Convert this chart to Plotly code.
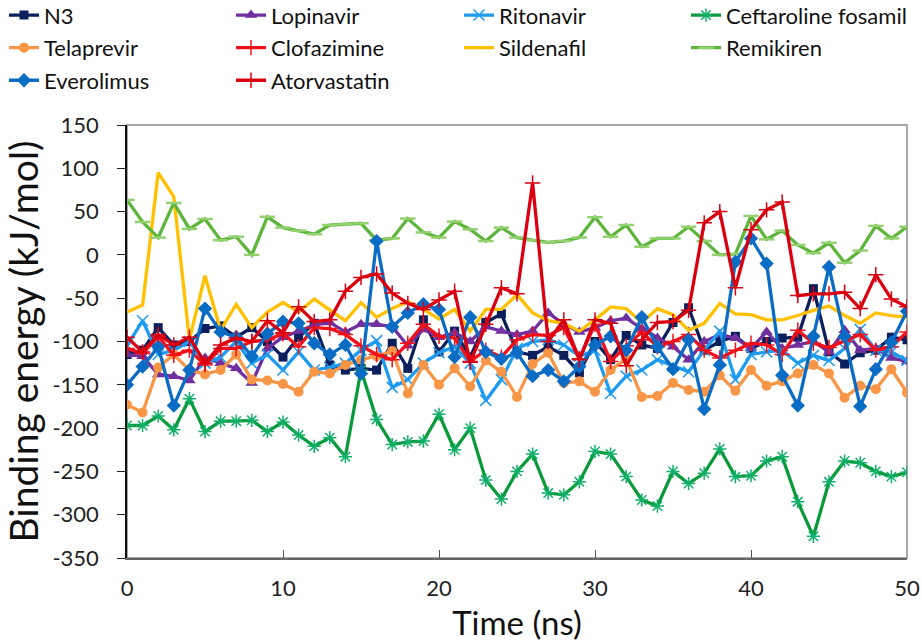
import plotly.graph_objects as go

time_ns = list(range(51))

n3 = [-115, -110, -84, -104, -100, -85, -82, -95, -84, -100, -118, -95, -79, -127, -133, -131, -133, -102, -131, -75,
      -112, -88, -118, -78, -68, -112, -116, -106, -116, -136, -100, -121, -93, -104, -108, -78, -61, -110, -100, -94,
      -108, -100, -96, -95, -39, -112, -126, -113, -110, -95, -98]
lopinavir = [-115, -117, -138, -140, -145, -119, -125, -131, -148, -108, -95, -88, -81, -78, -89, -80, -80, -83, -105, -86,
             -95, -90, -100, -83, -88, -92, -88, -67, -80, -89, -84, -76, -73, -85, -96, -106, -121, -100, -92, -96,
             -108, -89, -108, -104, -100, -112, -87, -110, -108, -119, -123]
ritonavir = [-105, -76, -115, -110, -100, -125, -118, -100, -125, -115, -133, -112, -133, -130, -125, -110, -99, -153, -144, -125,
             -113, -106, -125, -168, -144, -108, -100, -98, -104, -117, -110, -160, -140, -133, -121, -128, -135, -110, -88, -144,
             -115, -112, -110, -125, -116, -122, -108, -86, -110, -112, -122]
ceftaroline = [-197, -197, -186, -202, -166, -204, -192, -192, -191, -204, -193, -208, -221, -211, -233, -133, -190, -219, -216, -215,
               -184, -225, -200, -260, -282, -250, -230, -275, -277, -262, -227, -230, -256, -283, -290, -250, -264, -252, -224, -256,
               -255, -238, -233, -285, -325, -262, -238, -240, -250, -256, -251]
telaprevir = [-173, -182, -130, -115, -133, -138, -133, -115, -144, -145, -149, -158, -135, -137, -127, -121, -117, -111, -160, -127,
              -150, -131, -152, -122, -135, -164, -126, -113, -148, -146, -158, -133, -120, -164, -163, -148, -156, -158, -139, -157,
              -133, -151, -146, -137, -127, -137, -165, -151, -155, -132, -159]
clofazimine = [-108, -114, -94, -116, -110, -127, -108, -108, -100, -98, -91, -106, -84, -85, -92, -105, -115, -121, -102, -80,
               -94, -96, -123, -110, -118, -98, -92, -93, -84, -120, -80, -123, -105, -89, -106, -100, -92, -110, -119, -110,
               -102, -104, -115, -87, -102, -107, -100, -92, -110, -106, -89]
sildenafil = [-66, -58, 95, 67, -98, -24, -87, -57, -84, -66, -55, -66, -51, -63, -76, -55, -72, -62, -54, -63,
              -74, -63, -88, -63, -63, -46, -67, -76, -79, -88, -75, -60, -62, -78, -62, -69, -87, -79, -56, -68,
              -69, -75, -75, -70, -64, -59, -70, -79, -67, -70, -72]
remikiren = [63.5, 38, 20, 60, 30, 41.5, 17, 21, 0, 44, 31.5, 28, 24, 34.5, 35.5, 36.5, 17, 19, 42, 26,
             20, 38.5, 29.5, 16, 31.5, 20, 17, 14.5, 16, 20, 43.5, 21, 34.5, 9.5, 19, 19, 32.5, 16, 0, 1,
             45, 18, 28, 11.5, 2, 14, -9, 5, 33.5, 19, 32.5]
everolimus = [-150, -129, -106, -174, -133, -62, -89, -95, -117, -91, -77, -79, -102, -115, -104, -137, 16, -83, -67, -57,
              -63, -118, -72, -112, -120, -113, -140, -133, -146, -129, -104, -94, -110, -72, -106, -132, -98, -178, -127, -8,
              19, -10, -139, -174, -94, -14, -94, -175, -132, -101, -65]
atorvastatin = [-95, -112, -92, -104, -95, -125, -104, -96, -100, -76, -90, -60, -77, -75, -42, -26, -22, -44, -56, -63,
                -52, -42, -124, -80, -38, -45, 83, -100, -75, -121, -75, -79, -128, -98, -78, -77, -64, 37, 50, -38,
                29, 52, 61, -47, -45, -45, -43, -62, -23, -51, -60]

x_ticks = [0, 10, 20, 30, 40, 50]
y_ticks = [150, 100, 50, 0, -50, -100, -150, -200, -250, -300, -350]
y_tick_text = [str(v) for v in y_ticks]

FONT = "Lato, 'Open Sans', sans-serif"

series = [
    # name, data, line color, marker symbol, marker color, size, legend column
    ("N3", n3, "#0A1F5C", "square", "#0A1F5C", 9, "legend"),
    ("Lopinavir", lopinavir, "#7030A0", "triangle-up", "#7030A0", 11, "legend2"),
    ("Ritonavir", ritonavir, "#1E9BF0", "x-thin-open", "#1E9BF0", 11, "legend3"),
    ("Ceftaroline fosamil", ceftaroline, "#0B9A3A", "asterisk-open", "#11B06A", 11, "legend4"),
    ("Telaprevir", telaprevir, "#F79646", "circle", "#F79646", 10, "legend"),
    ("Clofazimine", clofazimine, "#F0101A", "cross-thin-open", "#F0101A", 11, "legend2"),
    ("Sildenafil", sildenafil, "#FFC000", None, None, 0, "legend3"),
    ("Remikiren", remikiren, "#5DB53A", "line-ew-open", "#92D070", 11, "legend4"),
    ("Everolimus", everolimus, "#0A6CC4", "diamond", "#0A6CC4", 11, "legend"),
    ("Atorvastatin", atorvastatin, "#DA0010", "cross-thin-open", "#DA0010", 11, "legend2"),
]

fig = go.Figure()
for name, data, lc, sym, mc, size, lg in series:
    if sym is None:
        fig.add_trace(go.Scatter(x=time_ns, y=data, name=name, mode="lines", legendgroup=name,
                                 line=dict(color=lc, width=3.3), legend=lg))
    else:
        marker = dict(symbol=sym, size=size, color=mc)
        if sym.endswith("open"):
            marker["line"] = dict(color=mc, width=2.5 if sym == "line-ew-open" else 1.5)
        fig.add_trace(go.Scatter(x=time_ns, y=data, name=name, mode="lines+markers", legendgroup=name,
                                 line=dict(color=lc, width=3.3), marker=marker, legend=lg))

def col_legend(px_left):
    return dict(orientation="v", xanchor="left", yanchor="top", x=(px_left - 127) / 780, y=1.302,
                font=dict(family=FONT, size=22, color="#111"), bgcolor="rgba(0,0,0,0)",
                itemwidth=30, tracegroupgap=1)

fig.update_layout(
    width=922, height=642,
    margin=dict(l=127, r=15, t=125, b=84, autoexpand=False),
    paper_bgcolor="white", plot_bgcolor="white",
    font=dict(family=FONT, size=20, color="#222"),
    legend=col_legend(4),
    legend2=col_legend(231),
    legend3=col_legend(459),
    legend4=col_legend(686),
    xaxis=dict(range=[0, 50], tickvals=x_ticks, ticks="inside", ticklen=8, tickcolor="#555",
               showline=True, linecolor="#666", linewidth=1.5, showgrid=False, zeroline=False,
               tickfont=dict(family=FONT, size=22, color="#222"), ticklabelstandoff=10,
               title=dict(text="Time (ns)", font=dict(family=FONT, size=33, color="#111"), standoff=14)),
    yaxis=dict(range=[-350, 150], tickvals=y_ticks, ticktext=y_tick_text, ticks="outside", ticklen=8,
               tickcolor="#222", showline=True, linecolor="#111", linewidth=1.5, showgrid=False, zeroline=False,
               tickfont=dict(family=FONT, size=22, color="#222"), ticklabelstandoff=14,
               title=dict(text="Binding energy (kJ/mol)", font=dict(family=FONT, size=39, color="#111"), standoff=4)),
)

fig.add_shape(type="rect", xref="paper", yref="paper", x0=0, x1=1, y0=0, y1=1,
              line=dict(color="#8a8a8a", width=1.5), layer="below")

fig.write_html("out.html", config={"displayModeBar": False},
               post_script="document.body.style.margin='0';document.body.style.padding='0';")
